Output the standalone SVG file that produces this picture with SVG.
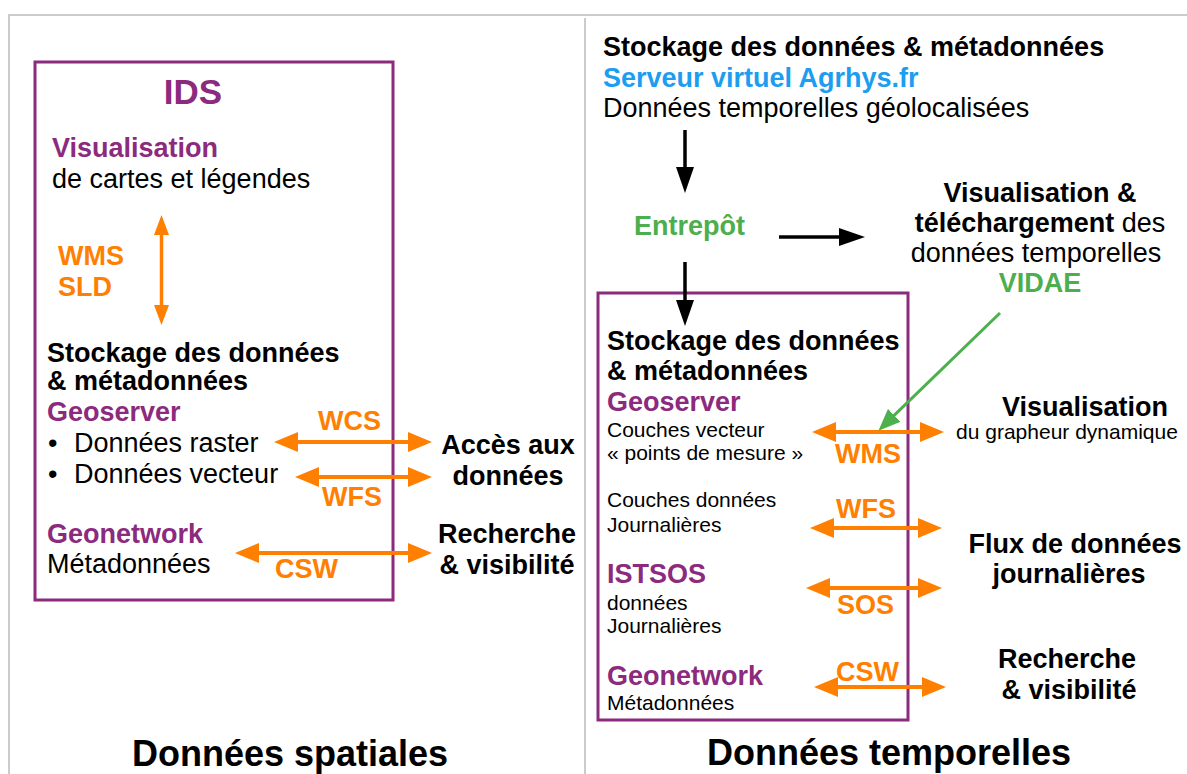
<svg xmlns="http://www.w3.org/2000/svg" width="1187" height="774" viewBox="0 0 1187 774">
<style>
text{font-family:"Liberation Sans",Arial,sans-serif;font-size:27px;fill:#000}
.b{font-weight:bold}
.s{font-size:21px}
.t{font-size:36px;font-weight:bold}
.p{fill:#8c2a7e;font-weight:bold}
.o{fill:#ff8000;font-weight:bold}
.g{fill:#4cae4c;font-weight:bold}
.bl{fill:#1c9df0;font-weight:bold}
.m{text-anchor:middle}
.box{fill:none;stroke:#8c2a7e;stroke-width:3}
.frame{fill:none;stroke:#cccccc;stroke-width:2}
.oa{stroke:#ff8000;stroke-width:4;fill:none;marker-start:url(#ho);marker-end:url(#ho)}
.ov{stroke:#ff8000;stroke-width:3.5;fill:none;marker-start:url(#hov);marker-end:url(#hov)}
.ka{stroke:#000;stroke-width:3.5;fill:none;marker-end:url(#hk)}
.ga{stroke:#4cb04c;stroke-width:3;fill:none;marker-end:url(#hg)}
</style>
<defs>
<marker id="ho" markerUnits="userSpaceOnUse" markerWidth="24" markerHeight="20" refX="14" refY="10" orient="auto-start-reverse"><path d="M0,0 L24,10 L0,20 Z" fill="#ff8000"/></marker>
<marker id="hov" markerUnits="userSpaceOnUse" markerWidth="20" markerHeight="15" refX="10" refY="7.5" orient="auto-start-reverse"><path d="M0,0 L20,7.5 L0,15 Z" fill="#ff8000"/></marker>
<marker id="hk" markerUnits="userSpaceOnUse" markerWidth="26" markerHeight="18" refX="14" refY="9" orient="auto"><path d="M0,0 L26,9 L0,18 Z" fill="#000"/></marker>
<marker id="hg" markerUnits="userSpaceOnUse" markerWidth="22" markerHeight="18" refX="12" refY="9" orient="auto"><path d="M0,0 L22,9 L0,18 Z" fill="#4cb04c"/></marker>
</defs>
<rect width="1187" height="774" fill="#fff"/>
<g id="frame">
<path class="frame" d="M8,15 H1187 M9,15 V774 M585,18 V774"/>
</g>
<g id="ids-box">
<rect class="box" x="35" y="62" width="358" height="538"/>
<text class="p m" x="193" y="104" style="font-size:35px">IDS</text>
</g>
<g id="visualisation-cartes">
<text class="p" x="52" y="157">Visualisation</text>
<text x="52" y="188">de cartes et légendes</text>
</g>
<g id="wms-sld-label">
<text class="o" x="58" y="265">WMS</text>
<text class="o" x="58" y="296">SLD</text>
</g>
<g id="stockage-spatial">
<text class="b" x="47" y="362">Stockage des données</text>
<text class="b" x="47" y="390">&amp; métadonnées</text>
<text class="p" x="47" y="421">Geoserver</text>
<text x="48" y="452">•</text>
<text x="74" y="452">Données raster</text>
<text x="48" y="483">•</text>
<text x="74" y="483">Données vecteur</text>
</g>
<g id="geonetwork-spatial">
<text class="p" x="47" y="543">Geonetwork</text>
<text x="47" y="573">Métadonnées</text>
</g>
<g id="spatial-labels">
<text class="o" x="318" y="430">WCS</text>
<text class="o" x="322" y="506">WFS</text>
<text class="o" x="275" y="578">CSW</text>
</g>
<g id="acces-donnees">
<text class="b m" x="508" y="454">Accès aux</text>
<text class="b m" x="508" y="485">données</text>
</g>
<g id="recherche-spatial">
<text class="b m" x="507" y="543">Recherche</text>
<text class="b m" x="507" y="574">&amp; visibilité</text>
</g>
<g id="titre-spatial">
<text class="t m" x="290" y="766">Données spatiales</text>
</g>
<g id="stockage-agrhys">
<text class="b" x="603" y="56">Stockage des données &amp; métadonnées</text>
<text class="bl" x="603" y="87">Serveur virtuel Agrhys.fr</text>
<text x="603" y="117">Données temporelles géolocalisées</text>
</g>
<g id="entrepot">
<text class="g" x="634" y="235">Entrepôt</text>
</g>
<g id="vidae">
<text class="b m" x="1040" y="202">Visualisation &amp;</text>
<text class="m" x="1040" y="232"><tspan class="b">téléchargement</tspan> des</text>
<text class="m" x="1036" y="262">données temporelles</text>
<text class="g m" x="1040" y="292">VIDAE</text>
</g>
<g id="temporal-box">
<rect class="box" x="598" y="293" width="310" height="427"/>
<text class="b" x="607" y="350">Stockage des données</text>
<text class="b" x="607" y="380">&amp; métadonnées</text>
<text class="p" x="607" y="411">Geoserver</text>
<text class="s" x="607" y="437">Couches vecteur</text>
<text class="s" x="607" y="460">« points de mesure »</text>
<text class="s" x="607" y="507">Couches données</text>
<text class="s" x="607" y="532">Journalières</text>
<text class="p" x="607" y="583">ISTSOS</text>
<text class="s" x="607" y="610">données</text>
<text class="s" x="607" y="633">Journalières</text>
<text class="p" x="607" y="685">Geonetwork</text>
<text class="s" x="607" y="710">Métadonnées</text>
</g>
<g id="temporal-labels">
<text class="o" x="835" y="463">WMS</text>
<text class="o" x="836" y="518">WFS</text>
<text class="o" x="837" y="614">SOS</text>
<text class="o" x="836" y="681">CSW</text>
</g>
<g id="visualisation-grapheur">
<text class="b m" x="1085" y="416">Visualisation</text>
<text class="s m" x="1067" y="439">du grapheur dynamique</text>
</g>
<g id="flux-journalieres">
<text class="b m" x="1075" y="553">Flux de données</text>
<text class="b m" x="1069" y="583">journalières</text>
</g>
<g id="recherche-temporel">
<text class="b m" x="1067" y="668">Recherche</text>
<text class="b m" x="1069" y="699">&amp; visibilité</text>
</g>
<g id="titre-temporel">
<text class="t m" x="889" y="765">Données temporelles</text>
</g>
<g id="connectors">
<line class="ov" x1="161.5" y1="225" x2="161.5" y2="315"/>
<line class="oa" x1="284" y1="442" x2="422" y2="442"/>
<line class="oa" x1="305" y1="477" x2="422" y2="477"/>
<line class="oa" x1="245" y1="553" x2="422" y2="553"/>
<line class="ka" x1="685" y1="130" x2="685" y2="181"/>
<line class="ka" x1="779" y1="237" x2="853" y2="237"/>
<line class="ka" x1="685" y1="262" x2="685" y2="314"/>
<line class="oa" x1="822" y1="432" x2="934" y2="432"/>
<line class="oa" x1="820" y1="528" x2="932" y2="528"/>
<line class="oa" x1="816" y1="588" x2="932" y2="588"/>
<line class="oa" x1="824" y1="687" x2="936" y2="687"/>
<line class="ga" x1="1000" y1="313" x2="885.6" y2="423.7"/>
</g>
</svg>
